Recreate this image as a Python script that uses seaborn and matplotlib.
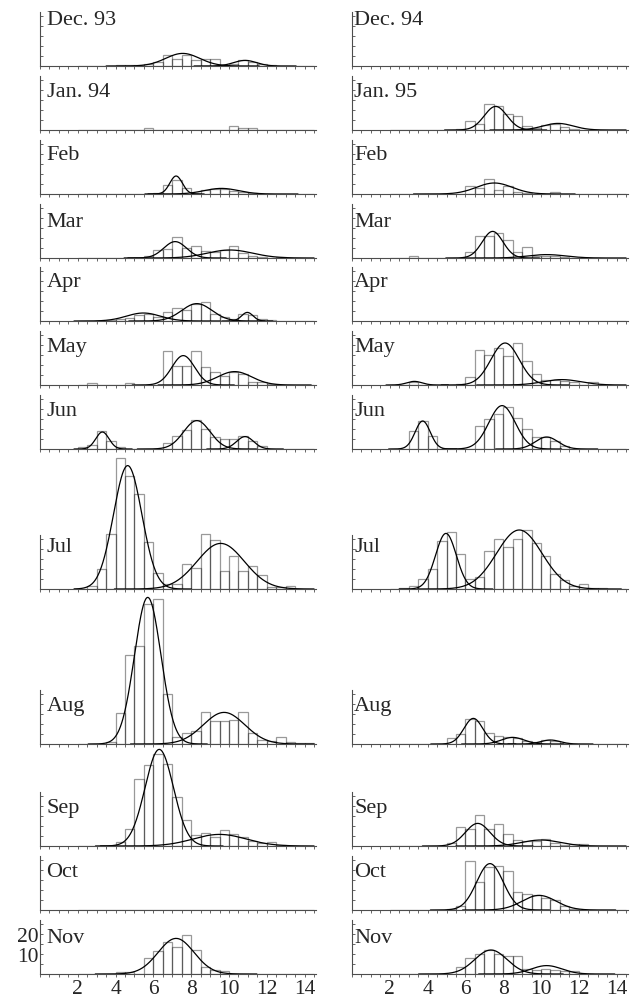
# plot.py
# Length-frequency histograms, Dec 93 - Nov 94 (left) and Dec 94 - Nov 95 (right),
# with the fitted normal components on top.

import numpy as np
import pandas as pd
import matplotlib
matplotlib.use('Agg')
import matplotlib.pyplot as plt
from matplotlib.ticker import MultipleLocator, FixedLocator
import seaborn as sns

# ════════════════════════════════════════════════════════════════
# bins: lower edges, width 0.5
bin_left = [2.0, 2.5, 3.0, 3.5, 4.0, 4.5, 5.0, 5.5, 6.0, 6.5, 7.0, 7.5, 8.0,
            8.5, 9.0, 9.5, 10.0, 10.5, 11.0, 11.5, 12.0, 12.5, 13.0, 13.5, 14.0]
bin_w = 0.5

months_left  = ['Dec. 93', 'Jan. 94', 'Feb', 'Mar', 'Apr', 'May', 'Jun', 'Jul', 'Aug', 'Sep', 'Oct', 'Nov']
months_right = ['Dec. 94', 'Jan. 95', 'Feb', 'Mar', 'Apr', 'May', 'Jun', 'Jul', 'Aug', 'Sep', 'Oct', 'Nov']

#                 2.0  2.5  3.0  3.5  4.0  4.5  5.0  5.5  6.0  6.5  7.0  7.5  8.0  8.5  9.0  9.5 10.0 10.5 11.0 11.5 12.0 12.5 13.0 13.5 14.0
dec93  = [0,   0,   0,   0,   0.4, 0.4, 0.4, 1,   2,   5.5, 3.3, 5.5, 2.8, 3.7, 3.7, 0.5, 1,   3.2, 2,   1,   0.5, 0,   0,   0,   0]
jan94  = [0,   0,   0,   0,   0,   0,   0,   1,   0,   0,   0,   0,   0,   0,   0,   0,   2,   1,   1,   0,   0,   0,   0,   0,   0]
feb94  = [0,   0,   0,   0,   0,   0,   0,   0,   0.5, 4.5, 7,   3,   0.5, 2.2, 2.5, 2.5, 1.5, 1,   0.5, 0,   0,   0,   0,   0,   0]
mar94  = [0,   0,   0,   0,   0,   0,   0,   1,   4.2, 4.5, 10.3, 4.8, 5.8, 3.7, 3.2, 4,  6.2, 2.3, 1,   0.5, 0,   0.5, 0,   0,   0]
apr94  = [0,   0,   0,   0.5, 1,   1.5, 2.8, 3.7, 2,   4.5, 6.5, 5.7, 8.7, 9.5, 3.7, 2,   1,   3.7, 3.2, 1,   0.5, 0,   0,   0,   0]
may94  = [0,   1,   0,   0,   0,   1,   0,   0,   0,   16.8, 9.7, 9.7, 16.8, 8.8, 6.3, 4.3, 6.7, 5.5, 1.7, 1.7, 0.5, 0, 0,   0,   0]
jun94  = [1,   2,   9,   4,   1,   0,   0,   0,   0,   3,   6.5, 9.5, 14.5, 10, 6,   5,   5,   6.5, 4,   1.5, 0,   0,   0,   0,   0]
jul94  = [0,   1.7, 9.8, 27.5, 65.3, 56.5, 47.3, 23.7, 8.2, 2.5, 2.3, 12.3, 10.3, 27.3, 24.5, 9, 16.7, 9, 11.7, 7, 1.2, 1.2, 1.7, 0, 0]
aug94  = [0,   0,   0,   1.2, 15.5, 44.5, 49, 70,  72.5, 25,  3.7, 5.3, 6.7, 16.2, 11.3, 11.3, 12.2, 16.2, 5.3, 2, 1.7, 3.3, 1, 0.5, 0.5]
sep94  = [0,   0,   0,   0,   2,   8.3, 33.3, 40.3, 45.8, 40.8, 24.7, 13, 5.3, 6.7, 4.7, 7.8, 5.8, 4.5, 2.5, 1.3, 2, 0.5, 0,  0,   0]
oct94  = [0] * 25
nov94  = [0,   0,   0,   0,   1.2, 1.2, 0,   8,   11.3, 15.8, 13.3, 19.7, 12, 3.3, 2,   1.7, 0,   0,   0,   0,   0,   0,   0,   0,   0]

dec94  = [0] * 25
jan95  = [0,   0,   0,   0,   0,   0,   0,   0.5, 4.3, 3,   13,  11.8, 8,   6.8, 2.2, 1,   2.5, 3,   1.5, 0.5, 0,   0,   0,   0,   0]
feb95  = [0,   0,   0,   0,   0,   0,   0,   0,   4.2, 2.8, 7.5, 2.2, 4.2, 1,   0.5, 0,   0,   1,   0,   0,   0,   0,   0,   0,   0]
mar95  = [0,   0,   1.2, 0,   0,   0,   0,   0,   2.8, 11.2, 10.8, 12.3, 9, 2.8, 5.3, 1.2, 1.2, 1,   0.5, 0,   0,   0,   0,   0,   0]
apr95  = [0] * 25
may95  = [0,   0,   1.3, 0,   0,   0,   0,   0.5, 3.8, 17.7, 15.2, 18.3, 14.3, 21, 12.2, 5.5, 2.7, 2.5, 2.2, 1.7, 0, 1.7, 0,  0,   0]
jun95  = [0,   0,   9,   14,  6.5, 0,   0,   0,   0,   11.7, 15, 17.5, 21, 15.5, 10,  6,   6,   4,   1.5, 0,   0,   0,   0,   0,   0]
jul95  = [0,   0.5, 1.5, 4.8, 9.8, 24,  28.3, 17.3, 4.8, 6.2, 19, 25, 21.2, 25.2, 29.5, 22.8, 16.7, 7.5, 4.5, 1.5, 2.3, 0.5, 0.5, 0, 0]
aug95  = [0,   0,   0,   0,   0,   0,   2.8, 5,   12.5, 11.3, 5.5, 3.8, 3.7, 2.8, 1.7, 0.8, 2.2, 1.7, 0.5, 0,   0,   0,   0,   0,   0]
sep95  = [0,   0,   0,   0,   0,   0,   1.3, 9.5, 8.3, 15.5, 8.3, 10.8, 5.8, 2.8, 2.5, 2.5, 3.3, 1.3, 0.5, 0.8, 0.8, 0,  0,   0,   0]
oct95  = [0,   0,   0,   0,   0,   0,   0.5, 2,   24.5, 14.2, 21.5, 22, 19.5, 9, 7.8, 7.3, 6.2, 4.8, 2,   0.5, 0,   0,   0,   0,   0]
nov95  = [0,   0,   0,   0,   0,   0,   0,   3.3, 8,   10,  12,  10,  9.2, 8.8, 2.5, 2,   2.5, 2,   1.7, 1.7, 0,   0,   0,   0,   0]

counts_left  = [dec93, jan94, feb94, mar94, apr94, may94, jun94, jul94, aug94, sep94, oct94, nov94]
counts_right = [dec94, jan95, feb95, mar95, apr95, may95, jun95, jul95, aug95, sep95, oct95, nov95]

# fitted components: (mean, peak height, sd)
comp_left = [
    [(7.55, 6.3, 0.9), (10.85, 2.8, 0.6)],
    [],
    [(7.2, 9.0, 0.33), (9.6, 2.8, 0.9)],
    [(7.15, 8.2, 0.6), (10.05, 4.0, 1.2)],
    [(5.47, 4.0, 0.9), (8.3, 8.7, 0.8), (10.97, 4.3, 0.3)],
    [(7.58, 14.7, 0.6), (10.3, 6.7, 0.9)],
    [(3.3, 8.5, 0.35), (8.3, 14.2, 0.7), (10.85, 6.2, 0.45)],
    [(4.64, 61.7, 0.75), (9.56, 22.8, 1.25)],
    [(5.7, 73.3, 0.7), (9.74, 15.8, 1.1)],
    [(6.31, 48.3, 0.75), (9.5, 5.8, 1.4)],
    [],
    [(7.2, 17.8, 0.95)],
]
comp_right = [
    [],
    [(7.6, 11.8, 0.6), (10.9, 3.3, 0.8)],
    [(7.53, 5.5, 0.95)],
    [(7.44, 13.3, 0.55), (10.3, 1.7, 1.0)],
    [],
    [(3.3, 1.8, 0.4), (8.1, 21.0, 0.75), (11.1, 2.7, 1.0)],
    [(3.74, 14.0, 0.4), (7.94, 21.7, 0.7), (10.3, 6.0, 0.6)],
    [(4.97, 27.8, 0.55), (8.85, 29.5, 1.2)],
    [(6.42, 12.8, 0.5), (8.5, 3.3, 0.6), (10.5, 2.0, 0.5)],
    [(6.65, 11.3, 0.65), (10.0, 3.0, 1.0)],
    [(7.3, 23.2, 0.7), (9.9, 7.3, 0.9)],
    [(7.35, 12.0, 0.85), (10.3, 4.2, 0.8)],
]

x_ticks = [2, 4, 6, 8, 10, 12, 14]
y_ticks = [10, 20]
# ════════════════════════════════════════════════════════════════

# layout (pixels)
W, H = 633, 1003
col_x0   = [40, 352]
px_unit  = 18.9
x_max    = 14.6
px_count = 2.0
row_base = [67, 131, 195, 259, 322, 386, 450, 590, 745, 847, 911, 975]
row_ymax = [29, 28, 28, 28, 28, 28, 28, 68, 75, 50, 28, 28]
label_y  = [21, 17, 17.5, 16, 17.5, 17, 17, 19, 17, 17, 17, 16]
spine_top = 27

sns.set_style('ticks')
plt.rcParams['font.family'] = ['Liberation Serif', 'DejaVu Serif']

fig = plt.figure(figsize=(W / 100, H / 100), dpi=100)
edges = bin_left + [bin_left[-1] + bin_w]
centers = [b + bin_w / 2 for b in bin_left]

for c, (months, counts, comps) in enumerate([(months_left, counts_left, comp_left),
                                              (months_right, counts_right, comp_right)]):
    for r in range(12):
        ymax = row_ymax[r]
        rect = [col_x0[c] / W, 1 - row_base[r] / H,
                x_max * px_unit / W, ymax * px_count / H]
        ax = fig.add_axes(rect)
        ax.patch.set_visible(False)

        sns.histplot(x=centers, weights=counts[r], bins=edges, ax=ax,
                     stat='count', element='bars', fill=True,
                     facecolor='none', edgecolor=(0, 0, 0, 0.4), linewidth=0.9)

        for mu, amp, sd in comps[r]:
            xs = np.linspace(max(1.8, mu - 4.5 * sd), min(14.5, mu + 4.5 * sd), 200)
            ys = amp * np.exp(-0.5 * ((xs - mu) / sd) ** 2)
            sns.lineplot(x=xs, y=ys, ax=ax, color='black', linewidth=0.9)

        ax.set_xlim(0, x_max)
        ax.set_ylim(0, ymax)
        ax.set_xlabel('')
        ax.set_ylabel('')

        for s in ['top', 'right']:
            ax.spines[s].set_visible(False)
        ax.spines['left'].set_bounds(0, spine_top)
        for s in ['left', 'bottom']:
            ax.spines[s].set_color('0.3')
            ax.spines[s].set_linewidth(0.8)

        ax.xaxis.set_major_locator(FixedLocator(x_ticks))
        ax.xaxis.set_minor_locator(MultipleLocator(0.5))
        ax.yaxis.set_major_locator(FixedLocator(y_ticks))
        ax.yaxis.set_minor_locator(FixedLocator([5, 15, 25]))
        ax.tick_params(axis='x', which='both', direction='out', length=2.5,
                       width=0.6, color='0.3', pad=1)
        ax.tick_params(axis='y', which='both', direction='in', length=2.5,
                       width=0.6, color='0.3', pad=1)

        if r == 11:
            ax.tick_params(axis='x', labelsize=15.5, labelbottom=True)
        else:
            ax.tick_params(axis='x', labelbottom=False)
        if r == 11 and c == 0:
            ax.tick_params(axis='y', labelsize=15.5, labelleft=True)
        else:
            ax.tick_params(axis='y', labelleft=False)

        ax.text(0.35 if c == 0 else 0.12, label_y[r], months[r],
                fontsize=16, ha='left', va='baseline')

plt.savefig('out.png', dpi=100)
